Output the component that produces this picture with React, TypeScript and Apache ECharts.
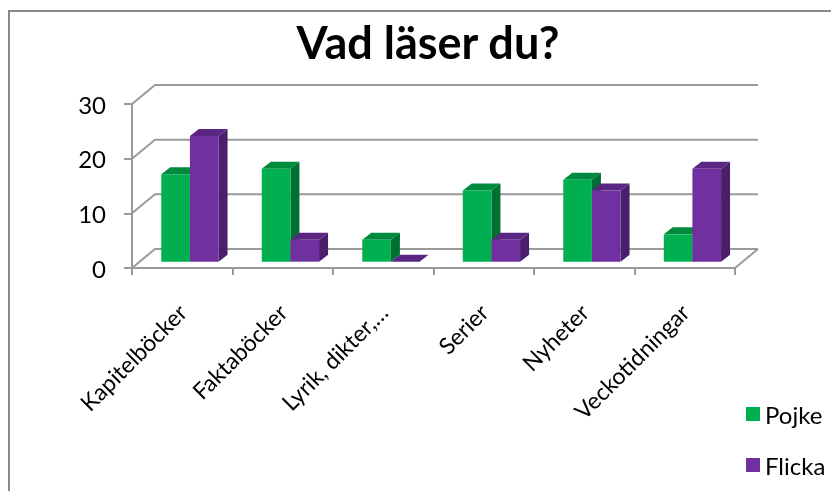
import React, { useEffect, useRef } from "react";
import * as echarts from "echarts";

const categories = ["Kapitelböcker", "Faktaböcker", "Lyrik, dikter,…", "Serier", "Nyheter", "Veckotidningar"];
const pojke = [16, 17, 4, 13, 15, 5];
const flicka = [23, 4, 0, 4, 13, 17];
const yTicks = [0, 10, 20, 30];
const seriesNames = ["Pojke", "Flicka"];
const titleText = "Vad läser du?";

const FONT = "Lato, 'Open Sans', sans-serif";
const GRID_COLOR = "#9a9a9a";
const WALL_DX = 23;
const WALL_DY = -19;
const BAR_SHIFT = 1 / 3;
const BAR_DX = 9;
const BAR_DY = -7;
const BAR_FRAC = 0.285;

const colors = [
  { front: "#00b050", top: "#008a3e", side: "#006f31" },
  { front: "#7030a0", top: "#5a2682", side: "#4a1f6b" },
];

function barRenderer(seriesIdx: number) {
  return (params: any, api: any) => {
    const i = api.value(0);
    const v = api.value(1);
    const top = api.coord([i, v]);
    const base = api.coord([i, 0]);
    const band = api.size([1, 0])[0];
    const w = band * BAR_FRAC;
    const sx = WALL_DX * BAR_SHIFT;
    const sy = WALL_DY * BAR_SHIFT;
    const x0 = top[0] + sx + (seriesIdx === 0 ? -w : 0);
    const x1 = x0 + w;
    const yt = top[1] + sy;
    const yb = base[1] + sy;
    const c = colors[seriesIdx];
    return {
      type: "group",
      children: [
        {
          type: "polygon",
          shape: { points: [[x1, yt], [x1 + BAR_DX, yt + BAR_DY], [x1 + BAR_DX, yb + BAR_DY], [x1, yb]] },
          style: { fill: c.side },
        },
        {
          type: "polygon",
          shape: { points: [[x0, yt], [x1, yt], [x1 + BAR_DX, yt + BAR_DY], [x0 + BAR_DX, yt + BAR_DY]] },
          style: { fill: c.top },
        },
        {
          type: "rect",
          shape: { x: x0, y: yt, width: w, height: Math.max(0, yb - yt) },
          style: { fill: c.front },
        },
      ],
    };
  };
}

function wallRenderer(params: any, api: any) {
  const cs = params.coordSys;
  const v = api.value(1);
  const y = api.coord([0, v])[1];
  const xl = cs.x;
  const xr = cs.x + cs.width;
  const children: any[] = [
    {
      type: "polyline",
      shape: { points: [[xl, y], [xl + WALL_DX, y + WALL_DY], [xr + WALL_DX, y + WALL_DY]] },
      style: { stroke: GRID_COLOR, lineWidth: 2, fill: "none" },
    },
  ];
  if (v === 0) {
    children.push({
      type: "line",
      shape: { x1: xr, y1: y, x2: xr + WALL_DX, y2: y + WALL_DY },
      style: { stroke: GRID_COLOR, lineWidth: 2 },
    });
  }
  return { type: "group", children };
}

export default function App() {
  const ref = useRef<HTMLDivElement>(null);
  useEffect(() => {
    if (!ref.current) return;
    const chart = echarts.init(ref.current, undefined, { renderer: "svg" });
    chart.setOption({
      animation: false,
      textStyle: { fontFamily: FONT },
      title: {
        text: titleText,
        left: 423,
        top: 14,
        textAlign: "center",
        textStyle: { fontSize: 45, fontWeight: "bold", color: "#000", fontFamily: FONT },
      },
      legend: {
        data: seriesNames,
        orient: "vertical",
        left: 741,
        top: 397,
        icon: "rect",
        itemWidth: 14,
        itemHeight: 14,
        itemGap: 27,
        textStyle: { fontSize: 24, color: "#000", fontFamily: FONT, lineHeight: 22 },
      },
      grid: { left: 132, top: 104, width: 603, height: 164, containLabel: false },
      xAxis: {
        type: "category",
        data: categories,
        boundaryGap: true,
        axisLine: { show: true, lineStyle: { color: GRID_COLOR, width: 2 } },
        axisTick: { show: true, length: 7, alignWithLabel: false, lineStyle: { color: GRID_COLOR, width: 2 } },
        axisLabel: { rotate: 45, interval: 0, fontSize: 23, color: "#000", margin: 40, fontFamily: FONT },
        splitLine: { show: false },
      },
      yAxis: {
        type: "value",
        min: 0,
        max: 30,
        interval: 10,
        axisLine: { show: true, lineStyle: { color: GRID_COLOR, width: 2 } },
        axisTick: { show: true, length: 8, lineStyle: { color: GRID_COLOR, width: 2 } },
        axisLabel: { fontSize: 24, color: "#000", margin: 26, fontFamily: FONT },
        splitLine: { show: false },
      },
      series: [
        {
          type: "custom",
          name: "wall",
          silent: true,
          z: 1,
          renderItem: wallRenderer,
          data: yTicks.map((v) => [0, v]),
        },
        {
          type: "custom",
          name: seriesNames[0],
          z: 3,
          itemStyle: { color: colors[0].front },
          renderItem: barRenderer(0),
          data: pojke.map((v, i) => [i, v]),
        },
        {
          type: "custom",
          name: seriesNames[1],
          z: 4,
          itemStyle: { color: colors[1].front },
          renderItem: barRenderer(1),
          data: flicka.map((v, i) => [i, v]),
        },
      ],
    });
    return () => chart.dispose();
  }, []);
  return (
    <>
      <div
        style={{
          position: "fixed",
          left: 8,
          top: 10,
          width: 823,
          height: 481,
          borderLeft: "2px solid #8a8a8a",
          borderTop: "2px solid #8a8a8a",
          boxSizing: "border-box",
        }}
      />
      <div ref={ref} style={{ position: "fixed", left: 0, top: 0, width: 831, height: 491 }} />
    </>
  );
}
